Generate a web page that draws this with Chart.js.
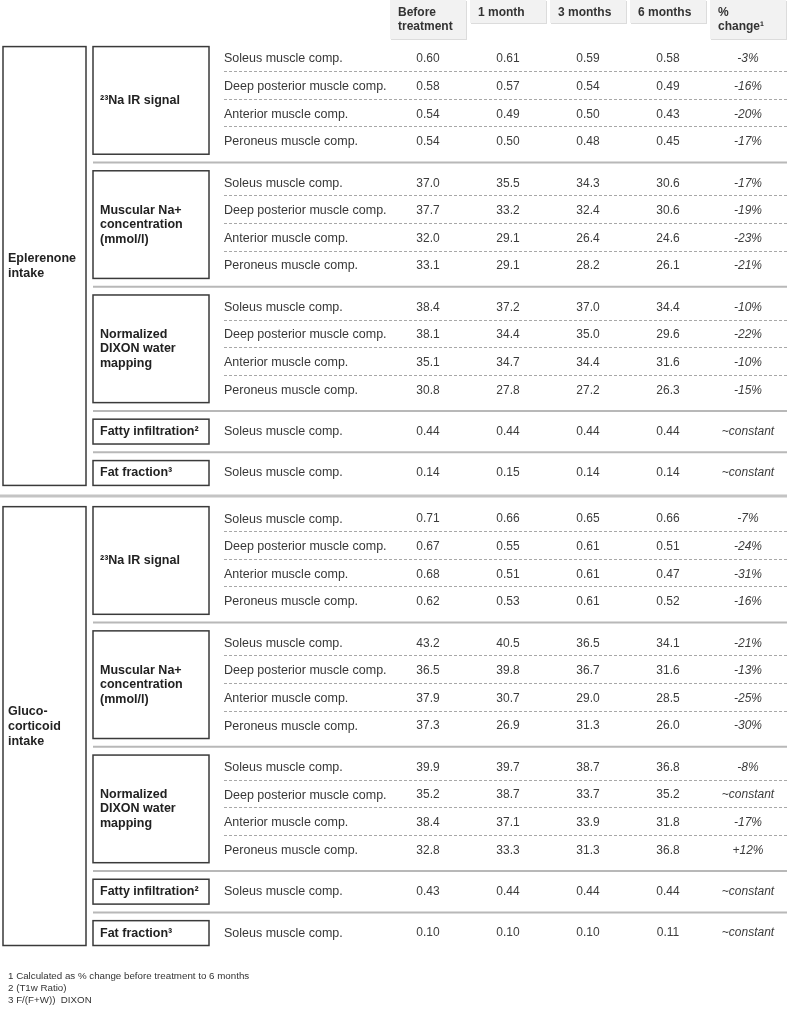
<!DOCTYPE html>
<html>
<head>
<meta charset="utf-8">
<script src="https://cdn.jsdelivr.net/npm/chart.js@4/dist/chart.umd.min.js"></script>
<style>
  html, body { margin: 0; padding: 0; background: #fff; }
  #wrap { width: 787px; height: 1010px; position: relative; }
</style>
</head>
<body>
<div id="wrap"><canvas id="myChart"></canvas></div>
<script>
// table content
const groups = ['Eplerenone\nintake', 'Gluco-\ncorticoid\nintake'];
const measures = ['²³Na IR signal', 'Muscular Na+\nconcentration\n(mmol/l)', 'Normalized\nDIXON water\nmapping', 'Fatty infiltration²', 'Fat fraction³'];
const measureRows = [4, 4, 4, 1, 1];
const measureDecimals = [2, 1, 1, 2, 2];
const muscles = ['Soleus muscle comp.', 'Deep posterior muscle comp.', 'Anterior muscle comp.', 'Peroneus muscle comp.'];
const timepoints = ['Before\ntreatment', '1 month', '3 months', '6 months', '%\nchange¹'];
const footnotes = ['1 Calculated as % change before treatment to 6 months', '2 (T1w Ratio)', '3 F/(F+W))  DIXON'];

// Eplerenone intake
const eplBefore = [0.60, 0.58, 0.54, 0.54, 37.0, 37.7, 32.0, 33.1, 38.4, 38.1, 35.1, 30.8, 0.44, 0.14];
const epl1m     = [0.61, 0.57, 0.49, 0.50, 35.5, 33.2, 29.1, 29.1, 37.2, 34.4, 34.7, 27.8, 0.44, 0.15];
const epl3m     = [0.59, 0.54, 0.50, 0.48, 34.3, 32.4, 26.4, 28.2, 37.0, 35.0, 34.4, 27.2, 0.44, 0.14];
const epl6m     = [0.58, 0.49, 0.43, 0.45, 30.6, 30.6, 24.6, 26.1, 34.4, 29.6, 31.6, 26.3, 0.44, 0.14];
const eplChange = ['-3%', '-16%', '-20%', '-17%', '-17%', '-19%', '-23%', '-21%', '-10%', '-22%', '-10%', '-15%', '~constant', '~constant'];

// Glucocorticoid intake
const gluBefore = [0.71, 0.67, 0.68, 0.62, 43.2, 36.5, 37.9, 37.3, 39.9, 35.2, 38.4, 32.8, 0.43, 0.10];
const glu1m     = [0.66, 0.55, 0.51, 0.53, 40.5, 39.8, 30.7, 26.9, 39.7, 38.7, 37.1, 33.3, 0.44, 0.10];
const glu3m     = [0.65, 0.61, 0.61, 0.61, 36.5, 36.7, 29.0, 31.3, 38.7, 33.7, 33.9, 31.3, 0.44, 0.10];
const glu6m     = [0.66, 0.51, 0.47, 0.52, 34.1, 31.6, 28.5, 26.0, 36.8, 35.2, 31.8, 36.8, 0.44, 0.11];
const gluChange = ['-7%', '-24%', '-31%', '-16%', '-21%', '-13%', '-25%', '-30%', '-8%', '~constant', '-17%', '+12%', '~constant', '~constant'];

const FONT = '"Liberation Sans", Arial, sans-serif';

// row positions (in row units) built from the table structure
const rowGap = 1.5, groupGap = 1.67;
const rows = [];
let pos = 0;
groups.forEach((g, gi) => {
  measures.forEach((m, mi) => {
    for (let k = 0; k < measureRows[mi]; k++) {
      rows.push({ g: gi, m: mi, k: k, y: pos });
      pos += 1;
    }
    pos += rowGap - 1;
  });
  pos += groupGap - rowGap;
});

const columns = [
  eplBefore.concat(gluBefore),
  epl1m.concat(glu1m),
  epl3m.concat(glu3m),
  epl6m.concat(glu6m),
  eplChange.concat(gluChange)
];

const datasets = columns.map((vals, t) => ({
  label: timepoints[t],
  data: rows.map(r => ({ x: t, y: r.y })),
  cells: vals,
  pointRadius: 0,
  clip: false
}));

function fmt(v, r) {
  return typeof v === 'string' ? v : v.toFixed(measureDecimals[r.m]);
}

const tablePlugin = {
  id: 'table',
  beforeDatasetsDraw(chart) {
    const ctx = chart.ctx;
    const xs = chart.scales.x, ys = chart.scales.y;
    const X = v => xs.getPixelForValue(v);
    const Y = v => ys.getPixelForValue(v);
    const right = chart.chartArea.right;
    ctx.save();

    // header cells
    timepoints.forEach((tp, t) => {
      const lines = tp.split('\n');
      const x0 = X(t - 0.475), x1 = X(t + 0.475);
      const h = lines.length > 1 ? 39 : 23;
      ctx.fillStyle = '#dcdcdc';
      ctx.fillRect(x0 + 1, 1, x1 - x0, h);
      ctx.fillStyle = '#f2f2f2';
      ctx.fillRect(x0, 0, x1 - x0, h);
      ctx.fillStyle = '#333';
      ctx.font = 'bold 12px ' + FONT;
      ctx.textAlign = 'left';
      ctx.textBaseline = 'middle';
      lines.forEach((ln, i) => ctx.fillText(ln, x0 + 8, 13 + i * 14));
    });

    // group boxes and separators
    groups.forEach((g, gi) => {
      const gr = rows.filter(r => r.g === gi);
      const top = Y(gr[0].y - 0.45), bot = Y(gr[gr.length - 1].y + 0.45);
      const x0 = X(-5.3125), x1 = X(-4.275);
      ctx.strokeStyle = '#3a3a3a';
      ctx.lineWidth = 1.5;
      ctx.strokeRect(x0, top, x1 - x0, bot - top);
      const lines = g.split('\n');
      ctx.fillStyle = '#222';
      ctx.font = 'bold 12.5px ' + FONT;
      ctx.textAlign = 'left';
      ctx.textBaseline = 'middle';
      const cy = (top + bot) / 2;
      lines.forEach((ln, i) => ctx.fillText(ln, X(-5.25), cy + (i - (lines.length - 1) / 2) * 15));

      if (gi < groups.length - 1) {
        const next = rows.find(r => r.g === gi + 1);
        const sy = (Y(gr[gr.length - 1].y) + Y(next.y)) / 2;
        ctx.strokeStyle = '#c4c4c4';
        ctx.lineWidth = 3;
        ctx.beginPath();
        ctx.moveTo(0, sy);
        ctx.lineTo(right, sy);
        ctx.stroke();
      }

      measures.forEach((m, mi) => {
        const mr = gr.filter(r => r.m === mi);
        const mt = Y(mr[0].y - 0.45), mb = Y(mr[mr.length - 1].y + 0.45);
        const bx0 = X(-4.1875), bx1 = X(-2.7375);
        ctx.strokeStyle = '#3a3a3a';
        ctx.lineWidth = 1.5;
        ctx.strokeRect(bx0, mt, bx1 - bx0, mb - mt);
        const ml = m.split('\n');
        ctx.fillStyle = '#222';
        ctx.font = 'bold 12.5px ' + FONT;
        const mcy = (mt + mb) / 2;
        ml.forEach((ln, i) => ctx.fillText(ln, X(-4.1), mcy + (i - (ml.length - 1) / 2) * 14.5));

        // dashed lines between rows of a measure
        ctx.strokeStyle = '#a8a8a8';
        ctx.lineWidth = 1;
        ctx.setLineDash([3, 2]);
        for (let i = 0; i < mr.length - 1; i++) {
          const dy = Math.round(Y(mr[i].y + 0.44)) + 0.5;
          ctx.beginPath();
          ctx.moveTo(X(-2.55), dy);
          ctx.lineTo(right, dy);
          ctx.stroke();
        }
        ctx.setLineDash([]);

        // solid separator to the next measure
        if (mi < measures.length - 1) {
          const nr = gr.find(r => r.m === mi + 1);
          const sy = (Y(mr[mr.length - 1].y) + Y(nr.y)) / 2;
          ctx.strokeStyle = '#b8b8b8';
          ctx.lineWidth = 2;
          ctx.beginPath();
          ctx.moveTo(bx0, sy);
          ctx.lineTo(right, sy);
          ctx.stroke();
        }
      });
    });

    // muscle labels
    ctx.fillStyle = '#383838';
    ctx.font = '12.5px ' + FONT;
    ctx.textAlign = 'left';
    ctx.textBaseline = 'middle';
    rows.forEach(r => ctx.fillText(muscles[r.k], X(-2.55), Y(r.y)));

    ctx.restore();
  },
  afterDatasetsDraw(chart) {
    const ctx = chart.ctx;
    ctx.save();
    ctx.textAlign = 'center';
    ctx.textBaseline = 'middle';
    ctx.fillStyle = '#3c3c3c';
    chart.data.datasets.forEach((ds, di) => {
      const meta = chart.getDatasetMeta(di);
      ctx.font = (di === 4 ? 'italic ' : '') + '12px ' + FONT;
      meta.data.forEach((el, i) => {
        ctx.fillText(fmt(ds.cells[i], rows[i]), el.x, el.y);
      });
    });

    // footnotes
    ctx.textAlign = 'left';
    ctx.fillStyle = '#333';
    ctx.font = '9.75px ' + FONT;
    const b = chart.chartArea.bottom;
    footnotes.forEach((f, i) => ctx.fillText(f, 8, b - 34 + i * 12));
    ctx.restore();
  }
};

const config = {
  type: 'scatter',
  data: { datasets: datasets },
  options: {
    responsive: true,
    maintainAspectRatio: false,
    animation: false,
    layout: { padding: 0 },
    plugins: {
      legend: { display: false },
      tooltip: { enabled: false },
      title: { display: false }
    },
    scales: {
      x: { type: 'linear', display: false, min: -5.35, max: 4.4875 },
      y: { type: 'linear', display: false, min: -2.138, max: 34.457, reverse: true }
    }
  },
  plugins: [tablePlugin]
};

var ctx = document.getElementById('myChart').getContext('2d');
var chart = new Chart(ctx, config);
</script>
</body>
</html>
